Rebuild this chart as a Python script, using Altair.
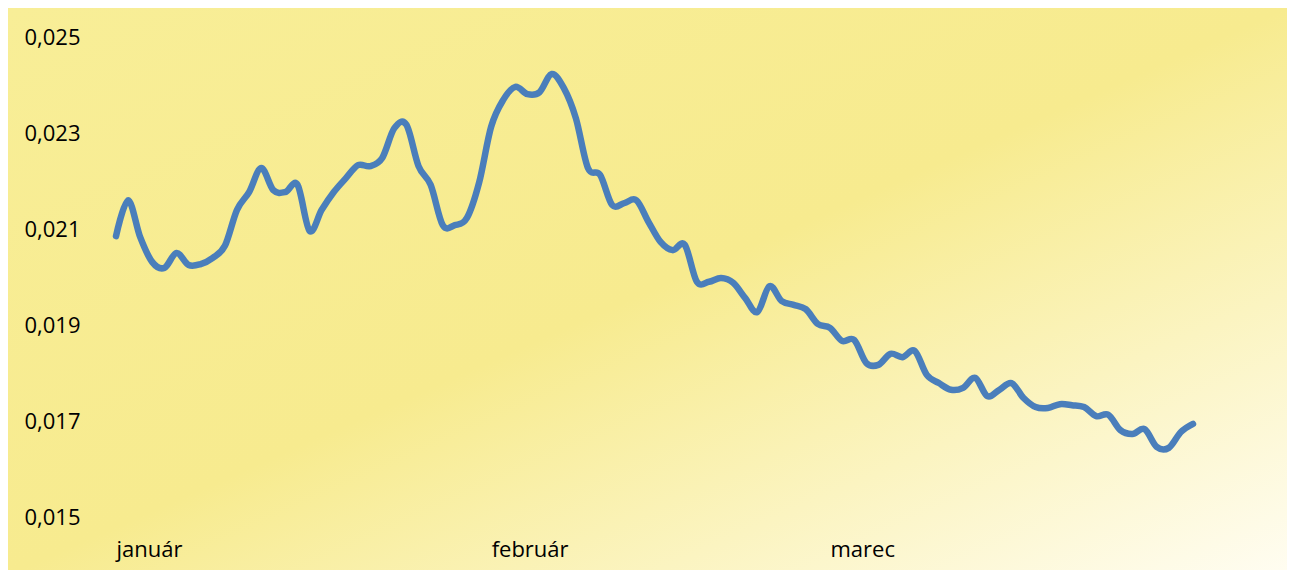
import altair as alt
import pandas as pd

# Daily values, 1 January - 31 March
values = [
    0.02085, 0.02160, 0.02083, 0.02031, 0.02019, 0.02050, 0.02025, 0.02027, 0.02040, 0.02065,
    0.02140, 0.02177, 0.02227, 0.02181, 0.02177, 0.02192, 0.02096, 0.02140, 0.02177, 0.02206,
    0.02233, 0.02231, 0.02248, 0.02310, 0.02317, 0.02231, 0.02192, 0.02108, 0.02108, 0.02123,
    0.02196, 0.02313, 0.02369, 0.02396, 0.02381, 0.02385, 0.02423, 0.02394, 0.02331, 0.02227,
    0.02213, 0.02150, 0.02154, 0.02160, 0.02115, 0.02073, 0.02056, 0.02067, 0.01990, 0.01990,
    0.01998, 0.01988, 0.01956, 0.01927, 0.01981, 0.01950, 0.01942, 0.01933, 0.01902, 0.01894,
    0.01867, 0.01869, 0.01821, 0.01817, 0.01840, 0.01833, 0.01846, 0.01796, 0.01779, 0.01765,
    0.01769, 0.01790, 0.01752, 0.01765, 0.01779, 0.01748, 0.01729, 0.01727, 0.01735, 0.01733,
    0.01729, 0.01710, 0.01713, 0.01681, 0.01673, 0.01683, 0.01646, 0.01644, 0.01677, 0.01694,
]
month_labels = ["január", "február", "marec"]
month_starts = [0, 31, 59]
y_ticks = [0.015, 0.017, 0.019, 0.021, 0.023, 0.025]

df = pd.DataFrame({"day": list(range(len(values))), "value": values})

label_expr = " : ".join(
    f"datum.value == {d} ? '{m}'" for d, m in zip(month_starts, month_labels)
) + " : ''"

FONT = "Open Sans"

gradient = {
    "gradient": "linear",
    "x1": 0, "y1": 0, "x2": 1, "y2": 1,
    "stops": [
        {"offset": 0.0, "color": "#F8EE97"},
        {"offset": 0.5, "color": "#F7EB8F"},
        {"offset": 1.0, "color": "#FFFDF2"},
    ],
}

bg = alt.Chart(pd.DataFrame({"a": [0]})).mark_rect(fill=gradient, stroke=None).encode(
    x=alt.value(-109), x2=alt.value(1174), y=alt.value(-30), y2=alt.value(538)
)

line = alt.Chart(df).mark_line(
    color="#4A7EBB", strokeWidth=6.5, interpolate="cardinal", strokeCap="round", strokeJoin="round"
).encode(
    x=alt.X(
        "day:Q",
        scale=alt.Scale(domain=[0, len(values) - 1], nice=False, zero=False),
        axis=alt.Axis(
            values=month_starts, labelExpr=label_expr, title=None, grid=False, ticks=False,
            domain=False, labelAlign="left", labelBaseline="top", labelPadding=22,
            labelFont=FONT, labelFontSize=22, labelColor="#000000", zindex=2,
        ),
    ),
    y=alt.Y(
        "value:Q",
        scale=alt.Scale(domain=[0.015, 0.025], nice=False, zero=False),
        axis=alt.Axis(
            values=y_ticks, labelExpr="replace(format(datum.value, '.3f'), '.', ',')",
            title=None, grid=False, ticks=False, domain=False, labelPadding=36,
            labelFont=FONT, labelFontSize=22, labelColor="#000000", zindex=2,
        ),
    ),
)

chart = alt.layer(bg, line).properties(
    width=1077, height=480,
    autosize=alt.AutoSizeParams(type="none"),
    padding={"left": 108, "top": 29, "right": 94, "bottom": 53},
    background="#FFFFFF",
).configure_view(stroke=None)

chart.save("out.html", embed_options={"renderer": "svg", "actions": False})
